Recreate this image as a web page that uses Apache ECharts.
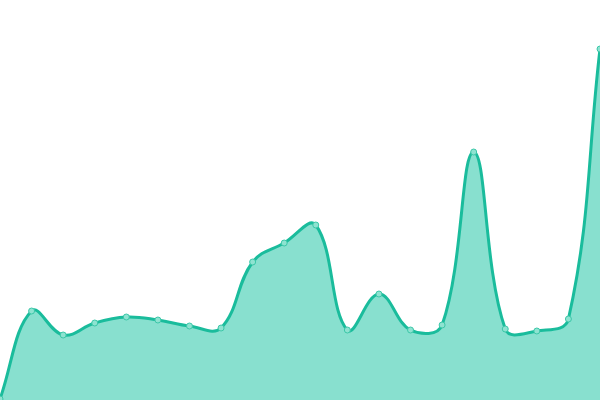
<!DOCTYPE html>
<html><head><meta charset="utf-8">
<script src="https://cdn.jsdelivr.net/npm/echarts@6/dist/echarts.min.js"></script>
<style>html,body{margin:0;padding:0;background:#fff}#c{width:600px;height:400px}</style>
</head><body><div id="c"></div>
<script>
var categories = ['1','2','3','4','5','6','7','8','9','10','11','12','13','14','15','16','17','18','19','20'];
var values = [1, 89, 65, 77, 83, 80, 74, 72, 138, 157, 175, 70, 106, 70, 75, 248, 71, 69, 81, 351];
var tension = 0.4;

function buildPaths(api, params) {
  var cs = params.coordSys;
  var left = cs.x, top = cs.y, right = cs.x + cs.width, bottom = cs.y + cs.height;
  var pts = values.map(function (v, i) { return api.coord([i, v]); });
  var n = pts.length, cpPrev = [], cpNext = [];
  function clamp(v, a, b) { return Math.max(a, Math.min(b, v)); }
  for (var i = 0; i < n; i++) {
    var p = pts[i], pr = pts[i - 1] || p, nx = pts[i + 1] || p;
    var d01 = Math.hypot(p[0] - pr[0], p[1] - pr[1]);
    var d12 = Math.hypot(nx[0] - p[0], nx[1] - p[1]);
    var s01 = d01 / (d01 + d12 || 1), s12 = d12 / (d01 + d12 || 1);
    var fa = tension * s01, fb = tension * s12;
    cpPrev[i] = [clamp(p[0] - fa * (nx[0] - pr[0]), left, right), clamp(p[1] - fa * (nx[1] - pr[1]), top, bottom)];
    cpNext[i] = [clamp(p[0] + fb * (nx[0] - pr[0]), left, right), clamp(p[1] + fb * (nx[1] - pr[1]), top, bottom)];
  }
  var d = 'M' + pts[0][0] + ' ' + pts[0][1];
  for (var j = 1; j < n; j++) {
    d += ' C' + cpNext[j - 1][0] + ' ' + cpNext[j - 1][1] + ' ' + cpPrev[j][0] + ' ' + cpPrev[j][1] + ' ' + pts[j][0] + ' ' + pts[j][1];
  }
  var area = d + ' L' + pts[n - 1][0] + ' ' + bottom + ' L' + pts[0][0] + ' ' + bottom + ' Z';
  return {line: d, area: area};
}

var chart = echarts.init(document.getElementById('c'));
chart.setOption({
  animation: false,
  grid: {left: 0, right: 0, top: 0, bottom: 0},
  xAxis: {type: 'category', data: categories, boundaryGap: false, show: false},
  yAxis: {type: 'value', min: 0, max: 400, show: false},
  series: [{
    type: 'custom',
    data: [[0, 0]],
    clip: true,
    z: 1,
    renderItem: function (params, api) {
      var p = buildPaths(api, params);
      return {
        type: 'group',
        children: [
          {type: 'path', shape: {pathData: p.area}, style: {fill: '#88E0CF', stroke: null}},
          {type: 'path', shape: {pathData: p.line}, style: {fill: null, stroke: '#1ABC9C', lineWidth: 3, lineJoin: 'round'}}
        ]
      };
    }
  }, {
    type: 'line',
    data: values,
    z: 3,
    symbol: 'circle',
    symbolSize: 6,
    showAllSymbol: true,
    lineStyle: {width: 0, opacity: 0},
    itemStyle: {color: '#8EE3D1', borderColor: '#3CC7A8', borderWidth: 1}
  }]
});
</script></body></html>
